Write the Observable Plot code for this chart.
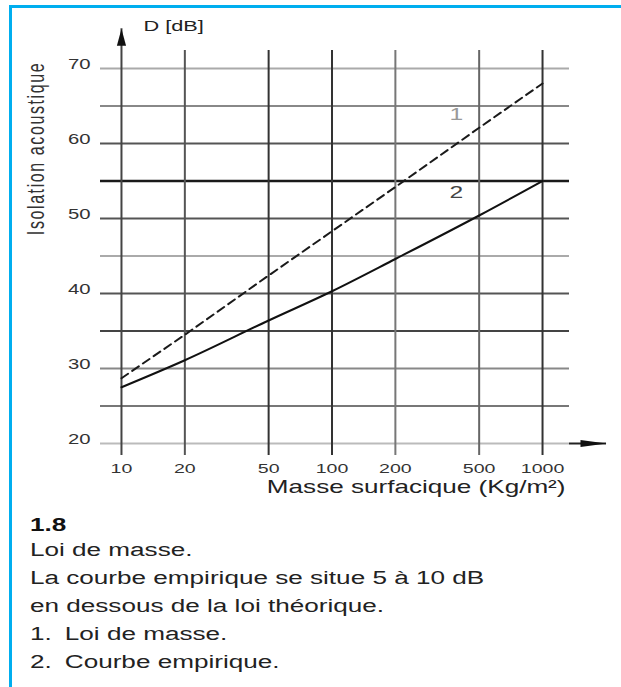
<!DOCTYPE html>
<html><head><meta charset="utf-8">
<script src="https://cdn.jsdelivr.net/npm/d3@7"></script>
<script src="https://cdn.jsdelivr.net/npm/@observablehq/plot@0.6"></script>
<style>
body{margin:0;background:#fff;font-family:"Liberation Sans",Arial,sans-serif;}
#wrap{position:relative;width:621px;height:687px;overflow:hidden;background:#fff;}
.bt{position:absolute;left:9px;top:5px;width:612px;height:3px;background:#00AEEF;}
.bl{position:absolute;left:9px;top:5px;width:3px;height:682px;background:#00AEEF;}
#chart{position:absolute;left:0;top:0;}
#cap{position:absolute;left:30px;top:515px;transform:scaleX(1.45);transform-origin:0 0;color:#222;font-size:18px;white-space:nowrap;}
#cap .num{font-weight:bold;line-height:21px;color:#111;}
#cap .body{line-height:28px;}
#cap .n{display:inline-block;width:24px;}
</style></head>
<body>
<div id="wrap">
  <div id="chart"></div>
  <div id="cap">
    <div class="num">1.8</div>
    <div class="body">
      <div>Loi de masse.</div>
      <div>La courbe empirique se situe 5 à 10 dB</div>
      <div>en dessous de la loi théorique.</div>
      <div><span class="n">1.</span>Loi de masse.</div>
      <div><span class="n">2.</span>Courbe empirique.</div>
    </div>
  </div>
  <div class="bt"></div>
  <div class="bl"></div>
</div>
<script>
// ---- data ----
const xTicks = [10, 20, 50, 100, 200, 500, 1000];
const yTicks = [20, 30, 40, 50, 60, 70];
const yGrid = [20, 25, 30, 35, 40, 45, 50, 55, 60, 65, 70];
const mass = [10, 20, 50, 100, 200, 500, 1000];
const loiDeMasse = [28.7, 34.5, 42.4, 48.3, 54.2, 62.1, 68.0];
const courbeEmpirique = [27.5, 31.1, 36.4, 40.3, 44.6, 50.4, 55.0];
const curveLabels = ["1", "2"];
const curveLabelX = [390, 390];
const curveLabelY = [63.2, 52.8];
const xExtent = [7.95, 1343];
const yExtent = [18.4, 72.4];
const yAxisTop = 75.3;
const xAxisEnd = 2013;
const xTitle = "Masse surfacique (Kg/m²)";
const yTitle = "Isolation acoustique";
const yUnit = "D [dB]";

// ---- styles ----
const shadeY = {70:"#aaa",65:"#888",60:"#555",55:"#1a1a1a",50:"#555",45:"#aaa",40:"#555",35:"#444",30:"#888",25:"#777",20:"#bbb"};
const shadeX = {10:"#444",20:"#555",50:"#333",100:"#333",200:"#777",500:"#666",1000:"#333"};

const arrowUp = {draw(ctx, size){ const L = Math.sqrt(size/Math.PI), w = L*0.27; ctx.moveTo(0,0); ctx.lineTo(w,L); ctx.lineTo(-w,L); ctx.closePath(); }};
const arrowRight = {draw(ctx, size){ const L = Math.sqrt(size/Math.PI), w = L*0.13; ctx.moveTo(0,0); ctx.lineTo(-L,w); ctx.lineTo(-L,-w); ctx.closePath(); }};

const chart = Plot.plot({
  width: 621,
  height: 510,
  marginLeft: 100,
  marginRight: 52,
  marginTop: 50,
  marginBottom: 55,
  style: {fontFamily: '"Liberation Sans", Arial, sans-serif', background: "transparent", overflow: "visible"},
  x: {type: "log", domain: xExtent, axis: null},
  y: {type: "linear", domain: yExtent, axis: null},
  marks: [
    Plot.ruleY(yGrid, {y: d => d, stroke: d => shadeY[d], strokeWidth: d => d === 55 ? 2.5 : 2}),
    Plot.ruleX(xTicks.filter(d => d !== 10), {x: d => d, stroke: d => shadeX[d], strokeWidth: 2}),
    Plot.ruleX([10], {x: d => d, y1: () => yExtent[0], y2: () => yAxisTop, stroke: shadeX[10], strokeWidth: 2}),
    Plot.dot([10], {x: d => d, y: () => yAxisTop, symbol: arrowUp, r: 17, fill: "#111", stroke: "none"}),
    Plot.ruleY([20], {y: d => d, x1: () => xExtent[1], x2: () => xAxisEnd, stroke: "#222", strokeWidth: 2}),
    Plot.dot([20], {x: () => xAxisEnd, y: d => d, symbol: arrowRight, r: 26, fill: "#111", stroke: "none"}),
    Plot.line(mass, {x: d => d, y: (d, i) => loiDeMasse[i], stroke: "#1a1a1a", strokeWidth: 2, strokeDasharray: "8,5"}),
    Plot.line(mass, {x: d => d, y: (d, i) => courbeEmpirique[i], curve: "monotone-x", stroke: "#111", strokeWidth: 2}),
    Plot.text(xTicks, {x: d => d, frameAnchor: "bottom", dy: 17, text: d => String(d), fontSize: 13.5, fill: "#333", lineAnchor: "middle", textAnchor: "middle"}),
    Plot.text(yTicks, {y: d => d, frameAnchor: "left", dx: -10, text: d => String(d), fontSize: 14, fill: "#333", textAnchor: "end", lineAnchor: "middle"}),
    Plot.text([xTitle], {frameAnchor: "bottom-right", dx: -4, dy: 37, text: d => d, fontSize: 18, fill: "#222", textAnchor: "end", lineAnchor: "middle"}),
    Plot.text([yTitle], {frameAnchor: "top-left", dx: -57, dy: 98, rotate: -90, text: d => d, fontSize: 16, fill: "#333", textAnchor: "middle", lineAnchor: "middle"}),
    Plot.text([yUnit], {frameAnchor: "top-left", dx: 43, dy: -20, text: d => d, fontSize: 15, fill: "#222", textAnchor: "start", lineAnchor: "middle"}),
    Plot.text(curveLabels, {x: (d, i) => curveLabelX[i], y: (d, i) => curveLabelY[i], text: d => d, fontSize: 17, fill: (d) => d === "1" ? "#999" : "#444", textAnchor: "middle", lineAnchor: "middle"})
  ]
});

// horizontal stretch of the lettering, as in the scanned original
chart.querySelectorAll("text").forEach(t => {
  let tr = t.getAttribute("transform") || "";
  const x = t.getAttribute("x"), y = t.getAttribute("y");
  if (x != null || y != null) {
    tr = (tr + ` translate(${+x || 0},${+y || 0})`).trim();
    t.removeAttribute("x"); t.removeAttribute("y");
  }
  const rotated = tr.includes("rotate");
  t.setAttribute("transform", (tr + (rotated ? " scale(1,1.45)" : " scale(1.45,1)")).trim());
  if (t.textContent.startsWith("Isolation")) t.style.letterSpacing = "1.6px";
});

document.getElementById("chart").appendChild(chart);
</script>
</body></html>
